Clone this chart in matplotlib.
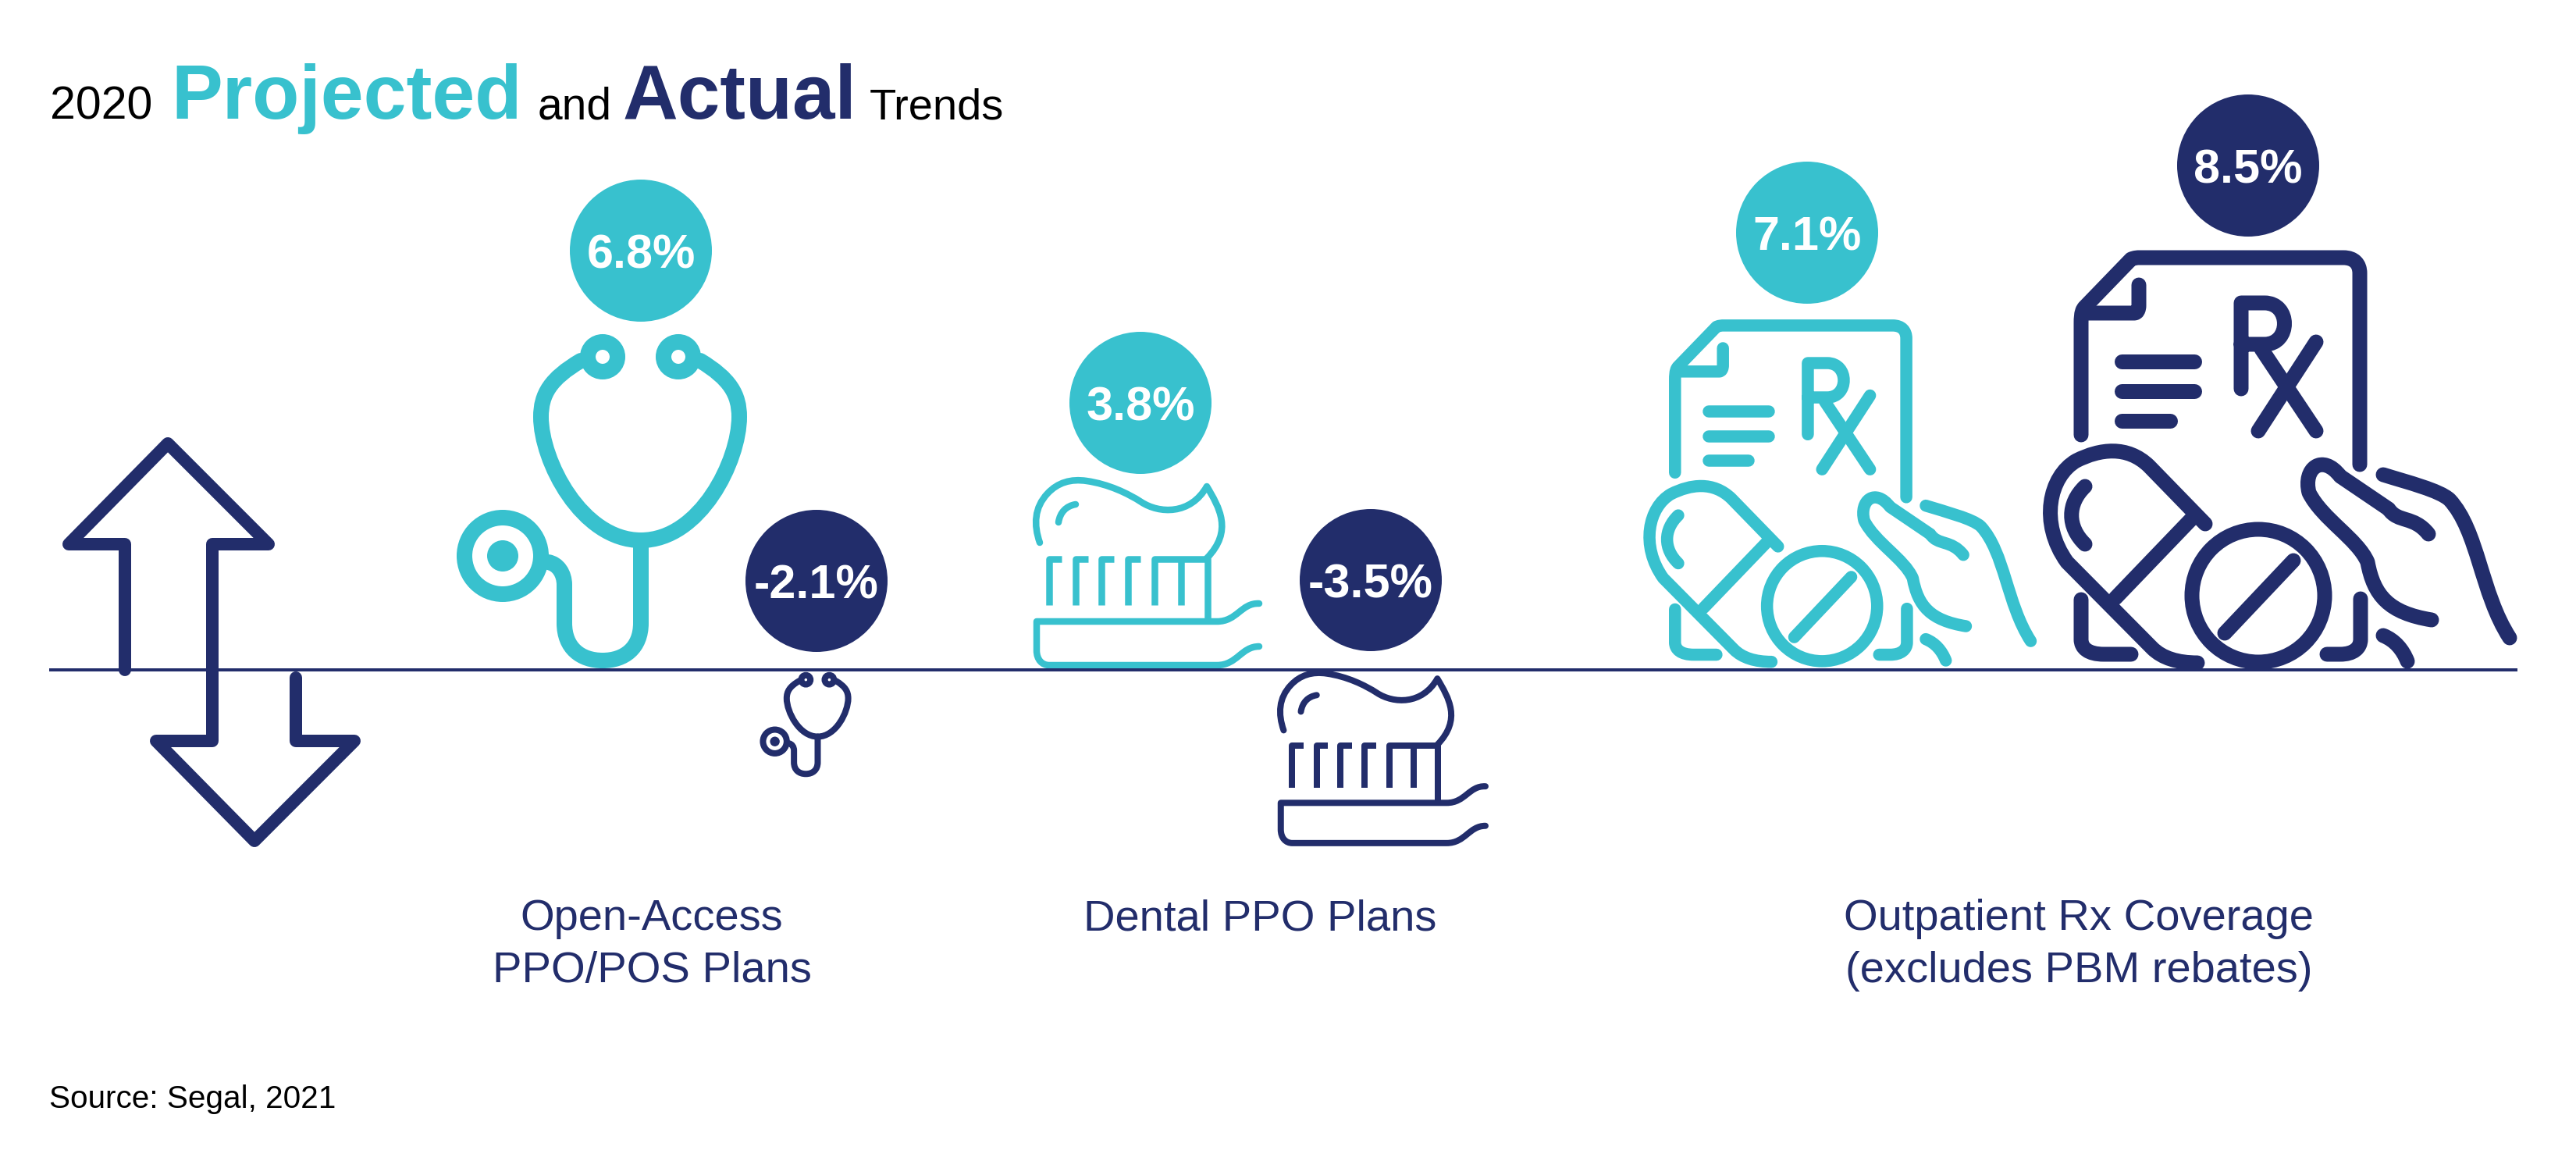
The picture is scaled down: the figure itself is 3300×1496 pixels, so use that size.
"""Projected vs. actual 2020 trend rates, drawn as icons on a baseline.

All positions are in reference pixels, so the axes simply run 0-3300 / 1496-0.
"""

import matplotlib
matplotlib.use('Agg')
import matplotlib.pyplot as plt
from matplotlib.patches import Circle, PathPatch
from matplotlib.path import Path

TEAL = '#38C1CE'
NAVY = '#222D6B'
PX = 72 / 200  # one pixel in points at dpi=200
BASE_Y = 858

STETHOSCOPE = {
    'round': ['M 744 462 C 705 485 693 505 693 534 C 693 590 745 692 821 692 '
              'C 897 692 947 590 947 534 C 947 505 935 485 897 462',
              'M 821 692 L 821 798 C 821 830 800 846 772 846 C 744 846 723 830 723 798 '
              'L 723 749 C 723 735 715 722 702 720'],
    'butt': [],
    'rings': [(772, 457, 19), (869, 457, 19), (644, 712, 49)],
    'dots': [(644, 712, 20)],
}
TOOTHPASTE = {
    'round': ['M 1332 695 C 1324 672 1325 650 1342 632 C 1355 618 1372 613 1392 616 '
              'C 1420 620 1445 632 1462 643 C 1485 658 1525 660 1546 623 '
              'C 1562 650 1580 680 1546 715',
              'M 1356 669 C 1358 656 1366 648 1378 646',
              'M 1613 773 C 1590 772 1585 796 1559 796 L 1328 796 L 1328 833 '
              'C 1328 845 1335 852 1344 852 L 1559 852 C 1585 852 1590 828 1613 828'],
    'butt': ['M 1344 775 L 1344 716 L 1360 716',
             'M 1378 775 L 1378 716 L 1394 716',
             'M 1411 775 L 1411 716 L 1427 716',
             'M 1445 775 L 1445 716 L 1461 716',
             'M 1479 775 L 1479 716 L 1547 716 L 1547 793',
             'M 1513 716 L 1513 775'],
    'rings': [],
    'dots': [],
}
RX = {
    'round': ['M 2666 557 L 2666 414 C 2666 400 2668 396 2671 393 L 2730 332 '
              'C 2735 330 2738 330 2741 330 L 3002 330 C 3016 330 3023 338 3023 350 L 3023 595',
              'M 2740 365 L 2740 391 C 2740 397 2738 401 2734 401 L 2671 401',
              'M 2718 463 L 2811 463', 'M 2718 501 L 2811 501', 'M 2718 539 L 2780 539',
              'M 2871 498 L 2871 388 L 2901 388 C 2935 388 2935 441 2901 441 L 2871 441',
              'M 2897 447 L 2967 552', 'M 2967 438 L 2893 552',
              'M 2825 671 L 2753 597 C 2725 570 2690 575 2660 590 C 2625 610 2612 670 2648 720 '
              'L 2757 830 C 2770 843 2790 849 2815 849',
              'M 2808 664 L 2710 766',
              'M 2671 623 C 2648 645 2648 675 2671 697',
              'M 2850 811 L 2938 718',
              'M 2666 768 L 2666 819 C 2666 830 2675 838 2695 838 L 2730 838',
              'M 3024 767 L 3024 819 C 3024 830 3015 838 2998 838 L 2981 838',
              'M 3111 684 C 3092 660 3072 670 3060 652 L 2998 610 C 2975 580 2950 600 2958 631 '
              'C 2975 665 3020 690 3033 720 C 3041 763 3060 785 3115 794',
              'M 3053 814 C 3068 820 3078 832 3084 847',
              'M 3053 608 C 3085 618 3125 628 3138 640 C 3175 680 3178 760 3215 817'],
    'butt': [],
    'rings': [(2893, 763, 85)],
    'dots': [],
}

# value, bubble centre x, y, colour
BUBBLES = [('6.8%', 821, 321, TEAL), ('-2.1%', 1046, 744, NAVY),
           ('3.8%', 1461, 516, TEAL), ('-3.5%', 1756, 743, NAVY),
           ('7.1%', 2315, 298, TEAL), ('8.5%', 2880, 212, NAVY)]
# icon, dx, dy, scale, stroke in px, colour
ICONS = [(STETHOSCOPE, 0, 0, 1.0, 20, TEAL), (STETHOSCOPE, 793, 729, 0.31, 8, NAVY),
         (TOOTHPASTE, 0, 0, 1.0, 8.5, TEAL), (TOOTHPASTE, 419, 296, 0.92, 8, NAVY),
         (RX, -67, 143, 0.83, 15.5, TEAL), (RX, 0, 0, 1.0, 19, NAVY)]
TITLE = [('2020', 64, 21.3, 'normal', 'black'), ('Projected', 219, 35.5, 'bold', TEAL),
         ('and', 689, 20.5, 'normal', 'black'), ('Actual', 798, 35.3, 'bold', NAVY),
         ('Trends', 1114, 20.2, 'normal', 'black')]
LABELS = [('Open-Access\nPPO/POS Plans', 835), ('Dental PPO Plans', 1614),
          ('Outpatient Rx Coverage\n(excludes PBM rebates)', 2663)]


def to_path(spec, dx, dy, scale):
    codes = {'M': (Path.MOVETO, 1), 'L': (Path.LINETO, 1), 'C': (Path.CURVE4, 3)}
    tokens = spec.split()
    verts, kinds = [], []
    i = 0
    while i < len(tokens):
        code, n = codes[tokens[i]]
        i += 1
        for _ in range(n):
            verts.append((float(tokens[i]) * scale + dx, float(tokens[i + 1]) * scale + dy))
            kinds.append(code)
            i += 2
    return Path(verts, kinds)


def draw_icon(ax, icon, dx, dy, scale, stroke, color):
    for key in ('round', 'butt'):
        for spec in icon[key]:
            ax.add_patch(PathPatch(to_path(spec, dx, dy, scale), fill=False, ec=color,
                                   lw=stroke * PX, capstyle=key, joinstyle='round'))
    for x, y, r in icon['rings']:
        ax.add_patch(Circle((x * scale + dx, y * scale + dy), r * scale, fill=False,
                            ec=color, lw=stroke * PX))
    for x, y, r in icon['dots']:
        ax.add_patch(Circle((x * scale + dx, y * scale + dy), r * scale, fc=color, ec='none'))


def main():
    plt.rcParams['font.family'] = ['Liberation Sans', 'DejaVu Sans']
    fig = plt.figure(figsize=(16.5, 7.48))
    ax = fig.add_axes([0, 0, 1, 1])
    ax.set_xlim(0, 3300)
    ax.set_ylim(1496, 0)
    ax.axis('off')

    for text, x, size, weight, color in TITLE:
        ax.text(x, 152, text, fontsize=size, fontweight=weight, color=color, va='baseline')

    # double arrow at the left
    arrows = 'M 160 858 L 160 697 L 88 697 L 215 568 L 344 697 L 272 697 L 272 949 ' \
             'L 200 949 L 326 1077 L 454 949 L 379 949 L 379 868'
    ax.add_patch(PathPatch(to_path(arrows, 0, 0, 1), fill=False, ec=NAVY, lw=16 * PX,
                           capstyle='round', joinstyle='round'))

    for icon, dx, dy, scale, stroke, color in ICONS:
        draw_icon(ax, icon, dx, dy, scale, stroke, color)

    ax.plot([63, 3225], [BASE_Y, BASE_Y], color=NAVY, lw=4 * PX, solid_capstyle='butt')

    for value, x, y, color in BUBBLES:
        ax.add_patch(Circle((x, y), 91, fc=color, ec='none'))
        ax.text(x, y + 7, value, fontsize=22, fontweight='bold', color='white',
                ha='center', va='center')

    for text, x in LABELS:
        ax.text(x, 1151, text, fontsize=20.2, color=NAVY, ha='center', va='top',
                linespacing=1.38)
    ax.text(63, 1408, 'Source: Segal, 2021', fontsize=14.6, color='black', va='center')

    fig.savefig('out.png', dpi=200, facecolor='white')


if __name__ == '__main__':
    main()
